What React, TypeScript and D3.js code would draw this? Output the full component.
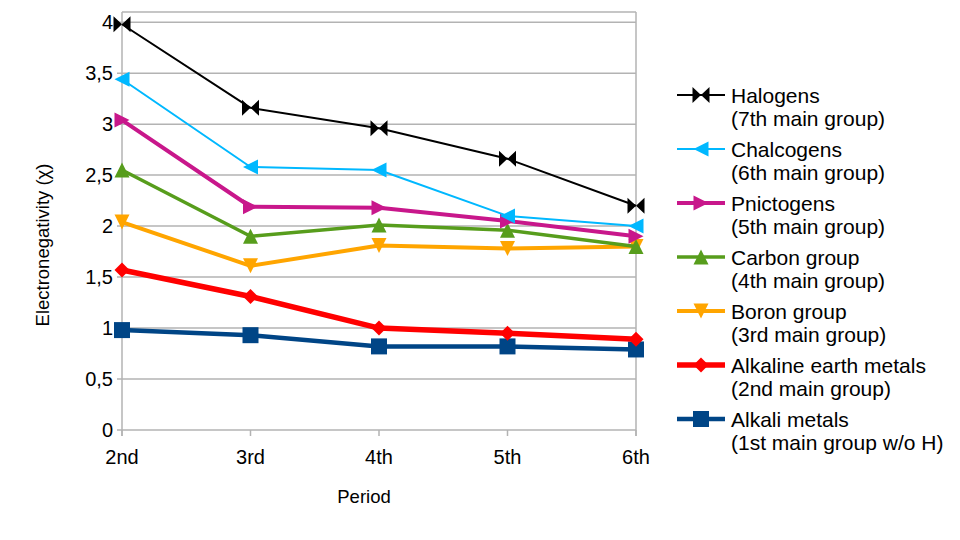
import * as d3 from "d3";

const periods = ["2nd", "3rd", "4th", "5th", "6th"];

const halogens = [3.98, 3.16, 2.96, 2.66, 2.2];
const chalcogens = [3.44, 2.58, 2.55, 2.1, 2.0];
const pnictogens = [3.04, 2.19, 2.18, 2.05, 1.9];
const carbonGroup = [2.55, 1.9, 2.01, 1.96, 1.8];
const boronGroup = [2.04, 1.61, 1.81, 1.78, 1.8];
const alkalineEarth = [1.57, 1.31, 1.0, 0.95, 0.89];
const alkali = [0.98, 0.93, 0.82, 0.82, 0.79];

const yTicks = [0, 0.5, 1, 1.5, 2, 2.5, 3, 3.5, 4];

type Marker = "bowtie" | "left" | "right" | "up" | "down" | "diamond" | "square";

type Series = {
  name: string;
  sub: string;
  values: number[];
  color: string;
  width: number;
  marker: Marker;
};

const series: Series[] = [
  { name: "Halogens", sub: "(7th main group)", values: halogens, color: "#000000", width: 2, marker: "bowtie" },
  { name: "Chalcogens", sub: "(6th main group)", values: chalcogens, color: "#00b8ff", width: 2, marker: "left" },
  { name: "Pnictogens", sub: "(5th main group)", values: pnictogens, color: "#c8178b", width: 4, marker: "right" },
  { name: "Carbon group", sub: "(4th main group)", values: carbonGroup, color: "#579d1c", width: 3.5, marker: "up" },
  { name: "Boron group", sub: "(3rd main group)", values: boronGroup, color: "#ffa500", width: 4, marker: "down" },
  { name: "Alkaline earth metals", sub: "(2nd main group)", values: alkalineEarth, color: "#ff0000", width: 5.5, marker: "diamond" },
  { name: "Alkali metals", sub: "(1st main group w/o H)", values: alkali, color: "#004586", width: 4.5, marker: "square" },
];

const W = 960;
const H = 540;
const plot = { left: 122, right: 636, top: 12, bottom: 430 };
const font = "'Liberation Sans', Arial, sans-serif";

function markerPath(kind: Marker): string {
  const s = 7.5;
  switch (kind) {
    case "bowtie":
      return `M-8.5,-8L0,0L-8.5,8Z M8.5,-8L0,0L8.5,8Z`;
    case "left":
      return `M${-s},0L${s},${-s}L${s},${s}Z`;
    case "right":
      return `M${s},0L${-s},${-s}L${-s},${s}Z`;
    case "up":
      return `M0,${-s}L${s},${s}L${-s},${s}Z`;
    case "down":
      return `M0,${s}L${s},${-s}L${-s},${-s}Z`;
    case "diamond":
      return `M0,${-s}L${s},0L0,${s}L${-s},0Z`;
    case "square":
      return `M${-8},${-8}H8V8H-8Z`;
  }
}

export default function App() {
  const x = d3.scalePoint<string>().domain(periods).range([plot.left, plot.right]);
  const y = d3.scaleLinear().domain([0, 4.1]).range([plot.bottom, plot.top]);
  const fmt = (v: number) => String(v).replace(".", ",");

  const line = d3
    .line<number>()
    .x((_, i) => x(periods[i])!)
    .y((d) => y(d));

  return (
    <svg
      width={W}
      height={H}
      style={{ position: "absolute", left: 0, top: 0, background: "#fff" }}
      fontFamily={font}
    >
      {/* horizontal grid */}
      {yTicks.map((t) => (
        <g key={t}>
          <line x1={plot.left - 5} x2={plot.right} y1={y(t)} y2={y(t)} stroke="#b3b3b3" strokeWidth={1.5} />
          <text x={113} y={y(t) + 7} textAnchor="end" fontSize={20} fill="#000">
            {fmt(t)}
          </text>
        </g>
      ))}
      <line x1={plot.left} x2={plot.right} y1={plot.top} y2={plot.top} stroke="#b3b3b3" strokeWidth={1.5} />
      <line x1={plot.left} x2={plot.left} y1={plot.top} y2={plot.bottom + 6} stroke="#b3b3b3" strokeWidth={1.5} />
      <line x1={plot.right} x2={plot.right} y1={plot.top} y2={plot.bottom + 6} stroke="#b3b3b3" strokeWidth={1.5} />

      {/* x ticks and labels */}
      {periods.map((p) => (
        <g key={p}>
          <line x1={x(p)} x2={x(p)} y1={plot.bottom} y2={plot.bottom + 6} stroke="#b3b3b3" strokeWidth={1.5} />
          <text x={x(p)} y={464} textAnchor="middle" fontSize={20} fill="#000">
            {p}
          </text>
        </g>
      ))}

      <text x={364} y={503} textAnchor="middle" fontSize={18.5} fill="#000">
        Period
      </text>
      <text
        transform={`translate(49,245) rotate(-90)`}
        textAnchor="middle"
        fontSize={18.5}
        fill="#000"
      >
        Electronegativity (χ)
      </text>

      {/* series, drawn bottom group first */}
      {[...series].reverse().map((s) => (
        <g key={s.name}>
          <path d={line(s.values)!} fill="none" stroke={s.color} strokeWidth={s.width} strokeLinejoin="round" />
          {s.values.map((v, i) => (
            <path
              key={i}
              d={markerPath(s.marker)}
              transform={`translate(${x(periods[i])},${y(v)})`}
              fill={s.color}
            />
          ))}
        </g>
      ))}

      {/* legend */}
      {series.map((s, i) => {
        const ly = 95 + i * 54;
        return (
          <g key={s.name}>
            <line x1={677} x2={725} y1={ly} y2={ly} stroke={s.color} strokeWidth={s.width} />
            <path d={markerPath(s.marker)} transform={`translate(701,${ly})`} fill={s.color} />
            <text x={731} y={ly + 8} fontSize={21} fill="#000">
              {s.name}
            </text>
            <text x={731} y={ly + 31} fontSize={21} fill="#000">
              {s.sub}
            </text>
          </g>
        );
      })}
    </svg>
  );
}
